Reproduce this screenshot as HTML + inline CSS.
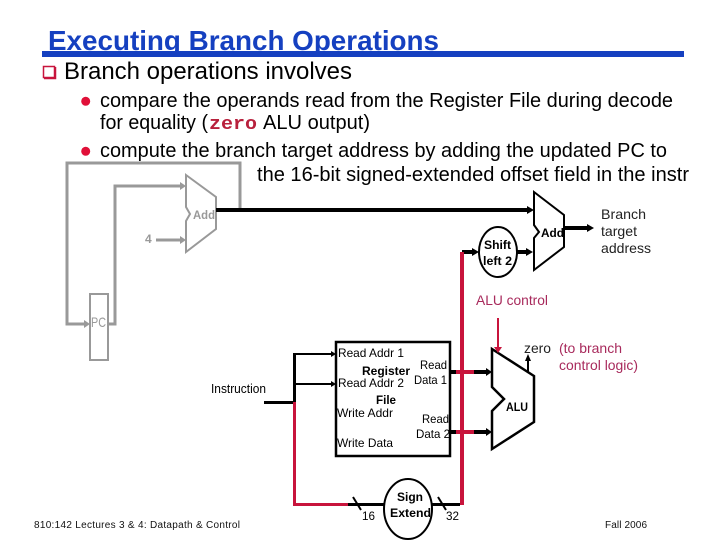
<!DOCTYPE html>
<html>
<head>
<meta charset="utf-8">
<style>
html,body{margin:0;padding:0;background:#fff;width:720px;height:540px;overflow:hidden}
svg{display:block}
text{font-family:"Liberation Sans",sans-serif;fill:#000}
.b{font-weight:bold}
.m{font-size:20px}
.p{fill:#a82a5c}
.g{fill:#999}
</style>
</head>
<body>
<svg width="720" height="540" viewBox="0 0 720 540" xmlns="http://www.w3.org/2000/svg">

<!-- Title -->
<text x="48" y="50" class="b" font-size="28" style="fill:#1540c0" textLength="391" lengthAdjust="spacingAndGlyphs">Executing Branch Operations</text>
<rect x="42" y="51" width="642" height="6" fill="#1540c0"/>

<!-- Bullets -->
<rect x="43.500" y="66.500" width="11" height="11" fill="#fff" stroke="#c8143c" stroke-width="1.500"/>
<path d="M44,78.500H55.500V67" fill="none" stroke="#c8143c" stroke-width="1.500"/>
<text x="64" y="79" font-size="24" textLength="288" lengthAdjust="spacingAndGlyphs">Branch operations involves</text>
<circle cx="85.700" cy="101.300" r="4.500" fill="#e01038"/>
<circle cx="85.700" cy="151.300" r="4.500" fill="#e01038"/>
<text x="100" y="107" class="m" textLength="573" lengthAdjust="spacingAndGlyphs">compare the operands read from the Register File during decode</text>
<text x="100" y="129" class="m" textLength="108" lengthAdjust="spacingAndGlyphs">for equality (</text>
<text x="209" y="129" font-size="18" font-weight="bold" style="font-family:'Liberation Mono',monospace;fill:#b8203c" textLength="48" lengthAdjust="spacingAndGlyphs">zero</text>
<text x="263" y="129" class="m" textLength="107" lengthAdjust="spacingAndGlyphs">ALU output)</text>
<text x="100" y="157" class="m" textLength="567" lengthAdjust="spacingAndGlyphs">compute the branch target address by adding the updated PC to</text>
<text x="257" y="181" class="m" textLength="432" lengthAdjust="spacingAndGlyphs">the 16-bit signed-extended offset field in the instr</text>

<!-- Grey part -->
<g fill="none" stroke="#999">
<path d="M240,210V163H67V324H85" stroke-width="3"/>
<path d="M108,324H115V186H181" stroke-width="3"/>
<path d="M156,240H181" stroke-width="3"/>
<rect x="90" y="294" width="18" height="66" stroke-width="2"/>
<path d="M186,175L216,197V229L186,252V221L190,214L186,207Z" stroke-width="2"/>
</g>
<path d="M84,320L90,324L84,328zM180,182L186,186L180,190zM180,236L186,240L180,244z" fill="#999"/>
<text x="193" y="219" class="b g" font-size="12" textLength="22" lengthAdjust="spacingAndGlyphs">Add</text>
<text x="145" y="243" class="b g" font-size="12">4</text>
<text x="91" y="327" class="g" font-size="14" textLength="15" lengthAdjust="spacingAndGlyphs">PC</text>

<!-- Upper black -->
<path d="M216,210H529" stroke="#000" stroke-width="4" fill="none"/>
<path d="M527,206L534,210L527,214z" fill="#000"/>
<path d="M534,192L564,215V247L534,270V238L539,232L534,225Z" fill="#fff" stroke="#000" stroke-width="2"/>
<text x="541" y="237" class="b" font-size="12" textLength="23" lengthAdjust="spacingAndGlyphs">Add</text>
<path d="M564,228H589" stroke="#000" stroke-width="4" fill="none"/>
<path d="M587,224L594,228L587,232z" fill="#000"/>
<text x="601" y="219" font-size="14" style="fill:#222" textLength="45" lengthAdjust="spacingAndGlyphs">Branch</text>
<text x="601" y="236" font-size="14" style="fill:#222" textLength="36" lengthAdjust="spacingAndGlyphs">target</text>
<text x="601" y="253" font-size="14" style="fill:#222" textLength="50" lengthAdjust="spacingAndGlyphs">address</text>

<!-- Shift left 2 -->
<path d="M462,252H474" stroke="#000" stroke-width="4" fill="none"/>
<path d="M472,248L479,252L472,256z" fill="#000"/>
<path d="M517,252H528" stroke="#000" stroke-width="4" fill="none"/>
<path d="M526,248L533,252L526,256z" fill="#000"/>
<ellipse cx="498" cy="252" rx="19" ry="25" fill="#fff" stroke="#000" stroke-width="2"/>
<text x="484" y="249" class="b" font-size="12" textLength="27" lengthAdjust="spacingAndGlyphs">Shift</text>
<text x="483" y="265" class="b" font-size="12" textLength="29" lengthAdjust="spacingAndGlyphs">left 2</text>

<!-- Register file -->
<rect x="336" y="342" width="114" height="114" fill="#fff" stroke="#000" stroke-width="2.500"/>
<text x="338" y="357" font-size="12" textLength="66" lengthAdjust="spacingAndGlyphs">Read Addr 1</text>
<text x="362" y="375" class="b" font-size="12" textLength="48" lengthAdjust="spacingAndGlyphs">Register</text>
<text x="338" y="387" font-size="12" textLength="66" lengthAdjust="spacingAndGlyphs">Read Addr 2</text>
<text x="376" y="404" class="b" font-size="12" textLength="20" lengthAdjust="spacingAndGlyphs">File</text>
<text x="337" y="417" font-size="12" textLength="56" lengthAdjust="spacingAndGlyphs">Write Addr</text>
<text x="337" y="447" font-size="12" textLength="56" lengthAdjust="spacingAndGlyphs">Write Data</text>
<text x="420" y="369" font-size="12" textLength="27" lengthAdjust="spacingAndGlyphs">Read</text>
<text x="414" y="384" font-size="12" textLength="33" lengthAdjust="spacingAndGlyphs">Data 1</text>
<text x="422" y="423" font-size="12" textLength="27" lengthAdjust="spacingAndGlyphs">Read</text>
<text x="416" y="438" font-size="12" textLength="34" lengthAdjust="spacingAndGlyphs">Data 2</text>

<!-- Instruction -->
<text x="211" y="393" font-size="13" textLength="55" lengthAdjust="spacingAndGlyphs">Instruction</text>
<path d="M264,402.500H295" stroke="#000" stroke-width="3" fill="none"/>
<path d="M294.500,402V353" stroke="#000" stroke-width="3" fill="none"/>
<path d="M294,354H332M294,384H332" stroke="#000" stroke-width="2" fill="none"/>
<path d="M331,351L336,354L331,357zM331,381L336,384L331,387z" fill="#000"/>
<path d="M294.500,402V504.500H348" stroke="#c8143c" stroke-width="3" fill="none"/>

<!-- Sign extend -->
<path d="M348,504.500H384M432,504.500H460" stroke="#000" stroke-width="3" fill="none"/>
<path d="M353,497L361,510M438,497L446,510" stroke="#000" stroke-width="2" fill="none"/>
<ellipse cx="408" cy="509" rx="24" ry="30" fill="#fff" stroke="#000" stroke-width="2"/>
<text x="397" y="501" class="b" font-size="12" textLength="26" lengthAdjust="spacingAndGlyphs">Sign</text>
<text x="390" y="517" class="b" font-size="12" textLength="41" lengthAdjust="spacingAndGlyphs">Extend</text>
<text x="362" y="520" font-size="12" textLength="13" lengthAdjust="spacingAndGlyphs">16</text>
<text x="446" y="520" font-size="12" textLength="13" lengthAdjust="spacingAndGlyphs">32</text>

<!-- Read data lines -->
<path d="M450,372H487M450,432H487" stroke="#000" stroke-width="4" fill="none"/>
<path d="M486,368L492,372L486,376zM486,428L492,432L486,436z" fill="#000"/>
<path d="M456,372H474M456,432H474" stroke="#c8143c" stroke-width="4" fill="none"/>
<path d="M462,252V505" stroke="#c8143c" stroke-width="4" fill="none"/>

<!-- ALU -->
<path d="M492,349L534,376V422L492,449V411L504,399L492,387Z" fill="#fff" stroke="#000" stroke-width="2.500"/>
<text x="506" y="411" class="b" font-size="12" textLength="22" lengthAdjust="spacingAndGlyphs">ALU</text>
<path d="M528,373V359" stroke="#000" stroke-width="2" fill="none"/>
<path d="M525,361L528,354L531,361z" fill="#000"/>
<text x="524" y="353" font-size="14" style="fill:#222" textLength="27" lengthAdjust="spacingAndGlyphs">zero</text>
<path d="M498,318V348" stroke="#c8143c" stroke-width="2" fill="none"/>
<path d="M494,347L498,353L502,347z" fill="#c8143c"/>
<text x="476" y="305" font-size="14" class="p" textLength="72" lengthAdjust="spacingAndGlyphs">ALU control</text>
<text x="559" y="353" font-size="14" class="p" textLength="63" lengthAdjust="spacingAndGlyphs">(to branch</text>
<text x="559" y="370" font-size="14" class="p" textLength="79" lengthAdjust="spacingAndGlyphs">control logic)</text>

<!-- Footer -->
<text x="34" y="528" font-size="10" style="fill:#111" textLength="206" lengthAdjust="spacing">810:142 Lectures 3 &amp; 4: Datapath &amp; Control</text>
<text x="605" y="528" font-size="10" style="fill:#111" textLength="42" lengthAdjust="spacing">Fall 2006</text>
</svg>
</body>
</html>
